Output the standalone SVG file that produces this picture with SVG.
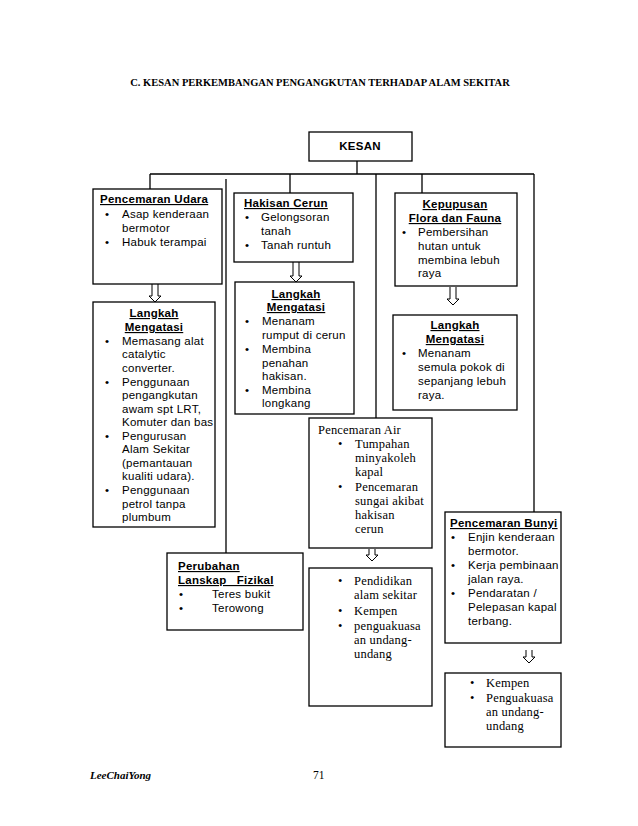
<svg xmlns="http://www.w3.org/2000/svg" width="638" height="826" viewBox="0 0 638 826">
<style>
.box{fill:#fff;stroke:#000;stroke-width:1.3}
.ln{fill:none;stroke:#000;stroke-width:1.3}
.arr{fill:#fff;stroke:#000;stroke-width:1}
.s{font-family:"Liberation Sans",Arial,sans-serif;font-size:11.5px;letter-spacing:0.25px;fill:#000}
.h{font-weight:bold;text-decoration:underline}
.c{text-anchor:middle}
.t{font-family:"Liberation Serif","Times New Roman",serif;font-size:12.5px;letter-spacing:0.2px;fill:#000}
</style>
<rect width="638" height="826" fill="#fff"/>
<text x="320" y="86" font-family="Liberation Serif,'Times New Roman',serif" font-size="10.5" font-weight="bold" text-anchor="middle">C. KESAN PERKEMBANGAN PENGANGKUTAN TERHADAP ALAM SEKITAR</text>

<g id="connectors">
<path class="ln" d="M357,161V174M150,174H534M150,174V189M290,174V193M376,174V418M422,174V193M534,174V512M226,179V553"/>
<path class="arr" d="M152,284V296H149L155,302L161,296H158V284"/>
<path class="arr" d="M293,262V276H290L296,282L302,276H299V262"/>
<path class="arr" d="M450,287V299H447L453,305L459,299H456V287"/>
<path class="arr" d="M369,549V555H366L372,561L378,555H375V549"/>
<path class="arr" d="M526,650V657H523L529,663L535,657H532V650"/>
</g>

<g id="kesan">
<rect class="box" x="309" y="132" width="103" height="29"/>
<text class="s c" x="360" y="150" font-weight="bold">KESAN</text>
</g>

<g id="pencemaran-udara">
<rect class="box" x="93" y="189" width="129" height="95"/>
<text class="s h" x="100" y="203">Pencemaran Udara</text>
<text class="s" x="105" y="218">•</text><text class="s" x="122" y="218">Asap kenderaan</text>
<text class="s" x="122" y="232">bermotor</text>
<text class="s" x="105" y="246">•</text><text class="s" x="122" y="246">Habuk terampai</text>
</g>

<g id="langkah-udara">
<rect class="box" x="93" y="302" width="122" height="225"/>
<text class="s h c" x="154" y="317">Langkah</text>
<text class="s h c" x="154" y="331">Mengatasi</text>
<text class="s" x="105" y="345">•</text><text class="s" x="122" y="345">Memasang alat</text>
<text class="s" x="122" y="358.3">catalytic</text>
<text class="s" x="122" y="371.6">converter.</text>
<text class="s" x="105" y="385.9">•</text><text class="s" x="122" y="385.9">Penggunaan</text>
<text class="s" x="122" y="399.2">pengangkutan</text>
<text class="s" x="122" y="412.5">awam spt LRT,</text>
<text class="s" x="122" y="425.8">Komuter dan bas</text>
<text class="s" x="105" y="440.1">•</text><text class="s" x="122" y="440.1">Pengurusan</text>
<text class="s" x="122" y="453.4">Alam Sekitar</text>
<text class="s" x="122" y="466.7">(pemantauan</text>
<text class="s" x="122" y="480">kualiti udara).</text>
<text class="s" x="105" y="494.3">•</text><text class="s" x="122" y="494.3">Penggunaan</text>
<text class="s" x="122" y="507.6">petrol tanpa</text>
<text class="s" x="122" y="520.9">plumbum</text>
</g>

<g id="hakisan-cerun">
<rect class="box" x="234" y="193" width="119" height="69"/>
<text class="s h" x="244" y="207">Hakisan Cerun</text>
<text class="s" x="245" y="221">•</text><text class="s" x="261" y="221">Gelongsoran</text>
<text class="s" x="261" y="235">tanah</text>
<text class="s" x="245" y="249">•</text><text class="s" x="261" y="249">Tanah runtuh</text>
</g>

<g id="langkah-hakisan">
<rect class="box" x="235" y="282" width="119" height="132"/>
<text class="s h c" x="296" y="298">Langkah</text>
<text class="s h c" x="296" y="311">Mengatasi</text>
<text class="s" x="245" y="325">•</text><text class="s" x="262" y="325">Menanam</text>
<text class="s" x="262" y="339">rumput di cerun</text>
<text class="s" x="245" y="353">•</text><text class="s" x="262" y="353">Membina</text>
<text class="s" x="262" y="367">penahan</text>
<text class="s" x="262" y="380">hakisan.</text>
<text class="s" x="245" y="394">•</text><text class="s" x="262" y="394">Membina</text>
<text class="s" x="262" y="407">longkang</text>
</g>

<g id="kepupusan">
<rect class="box" x="395" y="193" width="122" height="93"/>
<text class="s h c" x="455" y="208">Kepupusan</text>
<text class="s h c" x="455" y="222">Flora dan Fauna</text>
<text class="s" x="402" y="236">•</text><text class="s" x="418" y="236">Pembersihan</text>
<text class="s" x="418" y="250">hutan untuk</text>
<text class="s" x="418" y="264">membina lebuh</text>
<text class="s" x="418" y="277">raya</text>
</g>

<g id="langkah-kepupusan">
<rect class="box" x="393" y="315" width="124" height="95"/>
<text class="s h c" x="455" y="329">Langkah</text>
<text class="s h c" x="455" y="343">Mengatasi</text>
<text class="s" x="402" y="357">•</text><text class="s" x="418" y="357">Menanam</text>
<text class="s" x="418" y="371">semula pokok di</text>
<text class="s" x="418" y="385">sepanjang lebuh</text>
<text class="s" x="418" y="399">raya.</text>
</g>

<g id="pencemaran-air">
<rect class="box" x="309" y="418" width="123" height="130"/>
<text class="t" x="318" y="434">Pencemaran Air</text>
<text class="t" x="338" y="448">•</text><text class="t" x="355" y="448">Tumpahan</text>
<text class="t" x="355" y="462">minyakoleh</text>
<text class="t" x="355" y="476">kapal</text>
<text class="t" x="338" y="491">•</text><text class="t" x="355" y="491">Pencemaran</text>
<text class="t" x="355" y="505">sungai akibat</text>
<text class="t" x="355" y="519">hakisan</text>
<text class="t" x="355" y="533">cerun</text>
</g>

<g id="langkah-air">
<rect class="box" x="309" y="568" width="123" height="138"/>
<text class="t" x="338" y="585">•</text><text class="t" x="354" y="585">Pendidikan</text>
<text class="t" x="354" y="599">alam sekitar</text>
<text class="t" x="338" y="615">•</text><text class="t" x="354" y="615">Kempen</text>
<text class="t" x="338" y="630">•</text><text class="t" x="354" y="630">penguakuasa</text>
<text class="t" x="354" y="644">an undang-</text>
<text class="t" x="354" y="658">undang</text>
</g>

<g id="perubahan-lanskap">
<rect class="box" x="167" y="553" width="136" height="77"/>
<text class="s h" x="178" y="570">Perubahan</text>
<text class="s h" x="178" y="584" style="white-space:pre">Lanskap   Fizikal</text>
<text class="s" x="179" y="598">•</text><text class="s" x="212" y="598">Teres bukit</text>
<text class="s" x="179" y="612">•</text><text class="s" x="212" y="612">Terowong</text>
</g>

<g id="pencemaran-bunyi">
<rect class="box" x="445" y="512" width="116" height="131"/>
<text class="s h" x="450" y="527">Pencemaran Bunyi</text>
<text class="s" x="451" y="541">•</text><text class="s" x="468" y="541">Enjin kenderaan</text>
<text class="s" x="468" y="555">bermotor.</text>
<text class="s" x="451" y="569">•</text><text class="s" x="468" y="569">Kerja pembinaan</text>
<text class="s" x="468" y="583">jalan raya.</text>
<text class="s" x="451" y="597">•</text><text class="s" x="468" y="597">Pendaratan /</text>
<text class="s" x="468" y="611">Pelepasan kapal</text>
<text class="s" x="468" y="625">terbang.</text>
</g>

<g id="langkah-bunyi">
<rect class="box" x="445" y="673" width="116" height="74"/>
<text class="t" x="470" y="687">•</text><text class="t" x="486" y="687">Kempen</text>
<text class="t" x="470" y="702">•</text><text class="t" x="486" y="702">Penguakuasa</text>
<text class="t" x="486" y="716">an undang-</text>
<text class="t" x="486" y="730">undang</text>
</g>

<text x="90" y="779" font-family="Liberation Serif,'Times New Roman',serif" font-size="11" font-weight="bold" font-style="italic">LeeChaiYong</text>
<text x="313" y="779" font-family="Liberation Serif,'Times New Roman',serif" font-size="11.5">71</text>
</svg>
